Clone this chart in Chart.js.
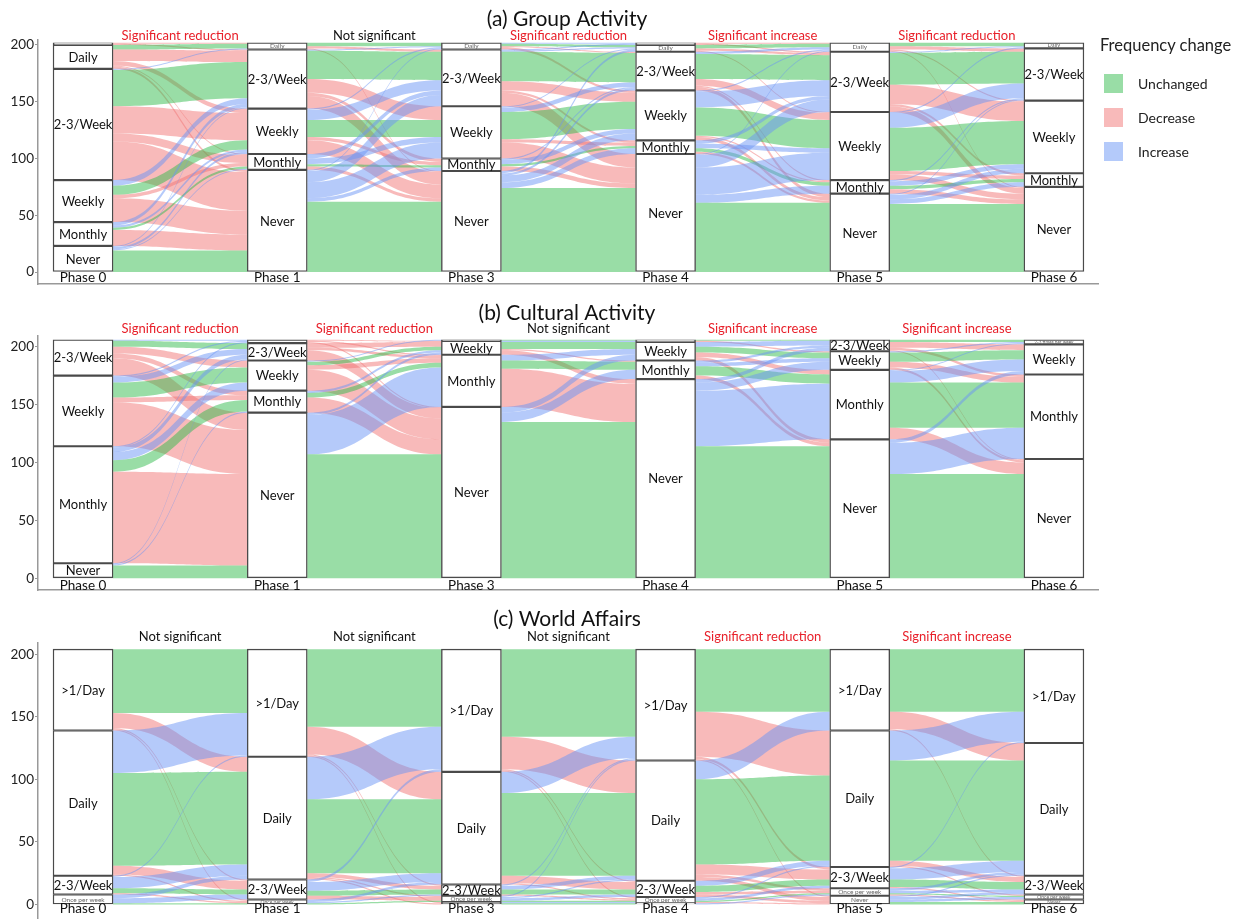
<!DOCTYPE html>
<html>
<head>
<meta charset="utf-8">
<script src="https://cdn.jsdelivr.net/npm/chart.js@4.4.1/dist/chart.umd.min.js"></script>
<style>
  body { margin: 0; width: 1248px; height: 919px; overflow: hidden; position: relative; background: #fff; font-family: Lato, sans-serif; }
  .panel { position: absolute; left: 0; width: 1248px; }
  #legend { position: absolute; left: 1100px; top: 35px; color: #222; }
  #legend .head { font-size: 16.5px; margin-bottom: 11px; }
  #legend .item { display: flex; align-items: center; height: 34px; font-size: 14px; }
  #legend .sw { width: 19px; height: 19px; margin: 0 15px 0 4px; }
</style>
</head>
<body>
<div class="panel" style="top:0;height:300px"><canvas id="groupChart"></canvas></div>
<div class="panel" style="top:300px;height:300px"><canvas id="cultureChart"></canvas></div>
<div class="panel" style="top:600px;height:330px"><canvas id="worldChart"></canvas></div>

<div id="legend">
  <div class="head">Frequency change</div>
  <div class="item"><div class="sw" style="background:#99dda6"></div>Unchanged</div>
  <div class="item"><div class="sw" style="background:#f8baba"></div>Decrease</div>
  <div class="item"><div class="sw" style="background:#b4cafa"></div>Increase</div>
</div>

<script>
// Phases and axis ticks
const phases = ["Phase 0", "Phase 1", "Phase 3", "Phase 4", "Phase 5", "Phase 6"];
const yTicks = [0, 50, 100, 150, 200];

// (a) Group Activity - categories top to bottom
const groupCategories = [">1/Day", "Daily", "2-3/Week", "Weekly", "Monthly", "Never"];
const groupSmallLabels = ["", "Daily", "2-3 times per week", "Weekly", "Monthly", "Never"];
const groupCounts = [
  [2, 21, 98, 37, 21, 23],
  [0, 6, 52, 40, 14, 90],
  [0, 6, 50, 46, 11, 89],
  [2, 6, 34, 44, 12, 104],
  [0, 8, 53, 60, 12, 69],
  [0, 5, 46, 64, 12, 75]
];
// flows between consecutive phases, rows = from, columns = to
const groupFlows = [
  [[0,1,1,0,0,0],[0,4,10,4,1,2],[0,1,32,24,7,34],[0,0,5,8,3,21],[0,0,3,2,2,14],[0,0,1,2,1,19]],
  [[0,0,0,0,0,0],[0,3,2,0,0,1],[0,1,25,12,3,11],[0,1,9,15,3,12],[0,0,4,5,2,3],[0,1,10,14,3,62]],
  [[0,0,0,0,0,0],[1,2,1,2,0,0],[1,1,26,8,2,12],[0,1,4,24,3,14],[0,0,1,4,2,4],[0,2,2,6,5,74]],
  [[0,1,1,0,0,0],[0,3,2,1,0,0],[0,2,22,6,1,3],[0,1,14,25,1,3],[0,0,3,4,3,2],[0,1,11,24,7,61]],
  [[0,0,0,0,0,0],[0,3,3,1,0,1],[0,1,28,17,2,5],[0,1,13,38,3,5],[0,0,1,4,3,4],[0,0,1,4,4,60]]
];
const groupTests = ["Significant reduction", "Not significant", "Significant reduction", "Significant increase", "Significant reduction"];

// (b) Cultural Activity
const cultureCategories = ["Daily", "2-3/Week", "Weekly", "Monthly", "Never"];
const cultureSmallLabels = ["Daily", "2-3 times per week", "Weekly", "Monthly", "Never"];
const cultureCounts = [
  [0, 31, 61, 101, 13],
  [3, 15, 26, 19, 143],
  [0, 1, 12, 45, 148],
  [0, 2, 16, 16, 172],
  [0, 10, 16, 60, 120],
  [0, 4, 26, 73, 103]
];
const cultureFlows = [
  [[0,0,0,0,0],[1,5,6,4,15],[1,5,13,4,38],[1,4,7,10,79],[0,1,0,1,11]],
  [[0,0,1,1,1],[0,0,4,2,9],[0,1,3,4,18],[0,0,2,4,13],[0,0,2,34,107]],
  [[0,0,0,0,0],[0,1,0,0,0],[0,1,6,1,4],[0,0,5,7,33],[0,0,5,8,135]],
  [[0,0,0,0,0],[0,1,1,0,0],[0,4,5,4,3],[0,2,3,8,3],[0,3,7,48,114]],
  [[0,0,0,0,0],[0,2,5,2,1],[0,1,8,5,2],[0,1,10,39,10],[0,0,3,27,90]]
];
const cultureTests = ["Significant reduction", "Significant reduction", "Not significant", "Significant increase", "Significant increase"];

// (c) World Affairs
const worldCategories = [">1/Day", "Daily", "2-3/Week", "Once per week", "Never"];
const worldSmallLabels = [">1/Day", "Daily", "2-3/Week", "Once per week", "Never"];
const worldCounts = [
  [65, 116, 15, 8, 0],
  [86, 98, 16, 4, 0],
  [98, 90, 9, 5, 2],
  [89, 96, 13, 5, 1],
  [65, 109, 17, 6, 7],
  [75, 106, 15, 4, 4]
];
const worldFlows = [
  [[51,12,1,1,0],[34,74,7,1,0],[1,9,4,1,0],[0,3,4,1,0],[0,0,0,0,0]],
  [[62,22,1,0,1],[34,59,3,1,1],[2,7,4,3,0],[0,2,1,1,0],[0,0,0,0,0]],
  [[70,26,1,1,0],[17,66,6,1,0],[1,3,4,1,0],[1,1,2,1,0],[0,0,0,1,1]],
  [[50,36,2,0,1],[15,68,8,2,3],[0,4,5,2,2],[0,1,2,1,1],[0,0,0,1,0]],
  [[50,14,1,0,0],[24,80,4,1,0],[1,9,6,0,1],[0,2,2,1,1],[0,1,2,2,2]]
];
const worldTests = ["Not significant", "Not significant", "Not significant", "Significant reduction", "Significant increase"];

// colours
const unchangedColor = "rgba(51,187,77,0.5)";
const decreaseColor = "rgba(241,117,117,0.5)";
const increaseColor = "rgba(107,149,245,0.5)";
const barWidth = 60;

function makeAlluvial(id, title, cats, small, counts, flows, tests, box) {
  const total = counts[0].reduce((a, b) => a + b, 0);

  // bottom category first so it stacks at the bottom
  const datasets = cats.map((c, k) => ({
    label: c,
    stack: "s",
    data: counts.map((col, i) => ({ x: i, y: col[k] })),
    backgroundColor: "#fff",
    borderColor: "#4a4a4a",
    borderWidth: 1.4,
    borderSkipped: false,
    barThickness: barWidth
  })).reverse();

  const plugin = {
    id: "alluvial_" + id,
    beforeDatasetsDraw(chart) {
      const ctx = chart.ctx, xs = chart.scales.x, ys = chart.scales.y;
      flows.forEach((m, t) => {
        const srcOff = [], dstOff = [];
        let a = total, b = total;
        counts[t].forEach((v, k) => { srcOff[k] = a; a -= v; });
        counts[t + 1].forEach((v, k) => { dstOff[k] = b; b -= v; });
        const x0 = xs.getPixelForValue(t) + barWidth / 2;
        const x1 = xs.getPixelForValue(t + 1) - barWidth / 2;
        const xm = (x0 + x1) / 2;
        m.forEach((row, i) => {
          row.forEach((v, j) => {
            if (!v) return;
            const sTop = ys.getPixelForValue(srcOff[i]), sBot = ys.getPixelForValue(srcOff[i] - v);
            const dTop = ys.getPixelForValue(dstOff[j]), dBot = ys.getPixelForValue(dstOff[j] - v);
            srcOff[i] -= v; dstOff[j] -= v;
            ctx.fillStyle = i === j ? unchangedColor : (j > i ? decreaseColor : increaseColor);
            ctx.beginPath();
            ctx.moveTo(x0, sTop);
            ctx.bezierCurveTo(xm, sTop, xm, dTop, x1, dTop);
            ctx.lineTo(x1, dBot);
            ctx.bezierCurveTo(xm, dBot, xm, sBot, x0, sBot);
            ctx.closePath();
            ctx.fill();
          });
        });
      });
    },
    afterDatasetsDraw(chart) {
      const ctx = chart.ctx, xs = chart.scales.x, ys = chart.scales.y;
      ctx.save();
      ctx.textAlign = "center";
      ctx.textBaseline = "middle";
      // stratum labels
      counts.forEach((col, i) => {
        const x = xs.getPixelForValue(i);
        let top = total;
        col.forEach((v, k) => {
          const yTop = ys.getPixelForValue(top), yBot = ys.getPixelForValue(top - v);
          top -= v;
          const h = yBot - yTop;
          if (h >= 11) {
            ctx.fillStyle = "#111";
            ctx.font = "13px Lato";
            ctx.fillText(cats[k], x, (yTop + yBot) / 2 + 0.5);
          } else if (h >= 3.5 && small[k]) {
            ctx.fillStyle = "#666";
            ctx.font = Math.min(6.5, h) + "px Lato";
            ctx.fillText(small[k], x, (yTop + yBot) / 2);
          }
        });
        // phase label
        ctx.fillStyle = "#111";
        ctx.font = "13.5px Lato";
        ctx.fillText(phases[i], x, ys.getPixelForValue(0) + box.phaseGap);
      });
      // significance labels
      ctx.font = "13px Lato";
      tests.forEach((s, t) => {
        const x = (xs.getPixelForValue(t) + xs.getPixelForValue(t + 1)) / 2;
        ctx.fillStyle = s.startsWith("Significant") ? "#e8202a" : "#111";
        ctx.fillText(s, x, box.testY);
      });
      // panel title
      ctx.fillStyle = "#111";
      ctx.font = "21px Lato";
      ctx.fillText(title, 567, box.titleY);
      ctx.restore();
    }
  };

  return new Chart(document.getElementById(id), {
    type: "bar",
    data: { datasets },
    options: {
      responsive: true,
      maintainAspectRatio: false,
      animation: false,
      layout: { padding: { left: 0, right: 150, top: box.padTop, bottom: box.padBottom } },
      plugins: { legend: { display: false }, tooltip: { enabled: false } },
      scales: {
        x: {
          type: "linear", min: -0.232, max: 5.227, offset: false,
          grid: { display: false, offset: false },
          border: { color: "#999", width: 1.5 },
          ticks: { display: false },
          afterFit: a => { a.height = 0; }
        },
        y: {
          stacked: true, min: box.yMin, max: box.yMax,
          afterBuildTicks: a => { a.ticks = yTicks.map(v => ({ value: v })); },
          afterFit: a => { a.width = 38; },
          grid: { drawOnChartArea: false, drawTicks: true, tickLength: 3, color: "#999" },
          border: { color: "#999", width: 1.5 },
          ticks: { color: "#222", font: { family: "Lato", size: 13.5 }, padding: 1 }
        }
      }
    },
    plugins: [plugin]
  });
}

makeAlluvial("groupChart", "(a) Group Activity", groupCategories, groupSmallLabels, groupCounts, groupFlows, groupTests,
  { padTop: 40, padBottom: 16, yMin: -10.57, yMax: 204.4, titleY: 19, testY: 36, phaseGap: 6 });
makeAlluvial("cultureChart", "(b) Cultural Activity", cultureCategories, cultureSmallLabels, cultureCounts, cultureFlows, cultureTests,
  { padTop: 36, padBottom: 10, yMin: -10.1, yMax: 209.2, titleY: 13, testY: 29, phaseGap: 7 });
makeAlluvial("worldChart", "(c) World Affairs", worldCategories, worldSmallLabels, worldCounts, worldFlows, worldTests,
  { padTop: 43, padBottom: 5, yMin: -13.1, yMax: 208.9, titleY: 19, testY: 37, phaseGap: 4 });
</script>
</body>
</html>
